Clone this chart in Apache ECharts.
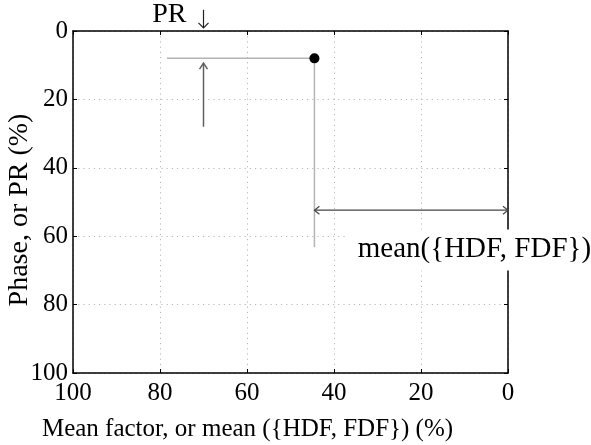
<!DOCTYPE html>
<html><head><meta charset="utf-8">
<script src="https://cdn.jsdelivr.net/npm/echarts@6/dist/echarts.min.js"></script>
<style>html,body{margin:0;padding:0;background:#fff}#c{width:591px;height:445px}</style>
</head><body><div id="c"></div>
<script>
// ---- data ----
const xTicks = [100, 80, 60, 40, 20, 0];
const yTicks = [0, 20, 40, 60, 80, 100];
const pointX = [44.5];
const pointY = [8];
const hLine = [78.4, 8, 44.5, 8];
const vLine = [44.5, 8, 44.5, 63.2];
const upArrow = [70, 28, 70, 9.4];       // x1,y1,x2,y2 head at end
const prArrow = [70, -6.2, 70, -0.9];    // the ↓ next to PR
const spanArrow = [44.5, 52.4, 0, 52.4]; // double-headed
const meanLabelPos = [8.4, 64.0];
const xTitle = 'Mean factor, or mean ({HDF, FDF}) (%)';
const yTitle = 'Phase, or PR (%)';
const meanText = 'mean({HDF, FDF})';
const prText = 'PR';

const FONT = 'Liberation Serif';
const chart = echarts.init(document.getElementById('c'), null, {renderer: 'canvas'});

function chevron(p, dir, size, half) {
  const bx = p[0] - dir[0] * size, by = p[1] - dir[1] * size;
  const nx = -dir[1], ny = dir[0];
  return [[bx + nx * half, by + ny * half], p, [bx - nx * half, by - ny * half]];
}

function segSeries(name, seg, color, width, heads, hs) {
  hs = hs || [6, 4];
  return {
    type: 'custom', name, coordinateSystem: 'cartesian2d', clip: false, z: 5,
    data: [seg],
    renderItem: function (params, api) {
      const p1 = api.coord([api.value(0), api.value(1)]);
      const p2 = api.coord([api.value(2), api.value(3)]);
      const children = [{type: 'line', shape: {x1: p1[0], y1: p1[1], x2: p2[0], y2: p2[1]},
        style: {stroke: color, lineWidth: width}}];
      const len = Math.hypot(p2[0] - p1[0], p2[1] - p1[1]);
      const d = [(p2[0] - p1[0]) / len, (p2[1] - p1[1]) / len];
      if (heads.end) children.push({type: 'polyline', shape: {points: chevron(p2, d, hs[0], hs[1])}, style: {stroke: color, fill: null, lineWidth: width}});
      if (heads.start) children.push({type: 'polyline', shape: {points: chevron(p1, [-d[0], -d[1]], hs[0], hs[1])}, style: {stroke: color, fill: null, lineWidth: width}});
      return {type: 'group', children};
    }
  };
}

const axisCommon = {
  type: 'value', min: 0, max: 100, interval: 20,
  axisLine: {show: true, onZero: false, lineStyle: {color: '#000', width: 1.5}},
  axisTick: {show: true, inside: true, length: 4, lineStyle: {color: '#000', width: 1}},
  splitLine: {show: false}
};

chart.setOption({
  animation: false,
  backgroundColor: '#fff',
  grid: {left: 73, right: 83, top: 31, bottom: 72, containLabel: false, outerBoundsMode: 'none'},
  xAxis: [
    Object.assign({}, axisCommon, {position: 'bottom', inverse: true,
      name: xTitle, nameLocation: 'middle', nameGap: 44, nameMoveOverlap: false,
      nameTextStyle: {fontFamily: FONT, fontSize: 25, color: '#000', padding: [0, 86, 0, 0]},
      axisLabel: {show: true, fontFamily: FONT, fontSize: 25, color: '#000', margin: 8},
      splitLine: {show: true, lineStyle: {color: '#b8b8b8', type: [1.2, 4], width: 1}}}),
    Object.assign({}, axisCommon, {position: 'top', inverse: true, axisLabel: {show: false}})
  ],
  yAxis: [
    Object.assign({}, axisCommon, {position: 'left', inverse: true,
      name: yTitle, nameLocation: 'middle', nameGap: 39, nameMoveOverlap: false,
      nameTextStyle: {fontFamily: FONT, fontSize: 28, color: '#000', padding: [0, 16, 0, 0]},
      axisLabel: {show: true, fontFamily: FONT, fontSize: 25, color: '#000', margin: 5},
      splitLine: {show: true, lineStyle: {color: '#b8b8b8', type: [1.2, 4], width: 1}}}),
    Object.assign({}, axisCommon, {position: 'right', inverse: true, axisLabel: {show: false}})
  ],
  series: [
    segSeries('h', hLine, '#b4b4b4', 1.5, {}),
    segSeries('v', vLine, '#b4b4b4', 1.5, {}),
    segSeries('up', upArrow, '#606060', 1.5, {end: true}),
    segSeries('pr', prArrow, '#222', 1.2, {end: true}, [5, 5]),
    segSeries('span', spanArrow, '#444', 1.2, {start: true, end: true}, [5, 4]),
    {
      type: 'scatter', xAxisIndex: 0, yAxisIndex: 0, z: 6,
      data: pointX.map((x, i) => [x, pointY[i]]),
      symbol: 'circle', symbolSize: 10, itemStyle: {color: '#000', opacity: 1}
    },
    {
      type: 'custom', coordinateSystem: 'cartesian2d', clip: false, z: 10,
      data: [meanLabelPos],
      renderItem: function (params, api) {
        const p = api.coord([api.value(0), api.value(1)]);
        return {type: 'text', x: p[0], y: p[1], style: {
          text: meanText, fontFamily: FONT, fontSize: 29, fill: '#000',
          align: 'center', verticalAlign: 'middle',
          backgroundColor: '#fff', padding: [6, 4, 6, 10]}};
      }
    },
    {
      type: 'custom', coordinateSystem: 'cartesian2d', clip: false, z: 10,
      data: [[prArrow[0], prArrow[1]]],
      renderItem: function (params, api) {
        const p = api.coord([api.value(0), api.value(1)]);
        return {type: 'text', x: p[0] - 17, y: p[1] + 5, style: {
          text: prText, fontFamily: FONT, fontSize: 28, fill: '#000',
          align: 'right', verticalAlign: 'middle'}};
      }
    }
  ]
});
</script></body></html>
